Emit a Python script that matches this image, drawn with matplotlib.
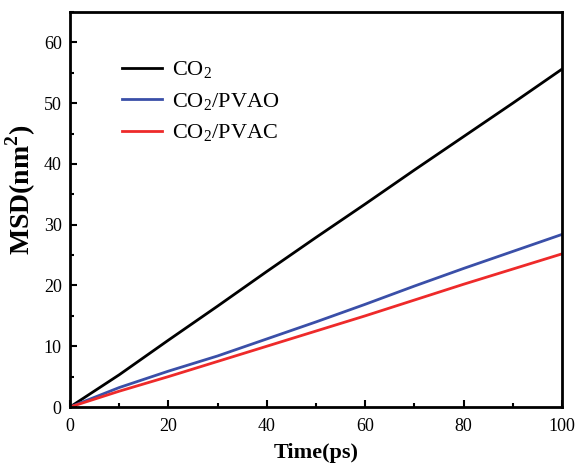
import matplotlib.pyplot as plt
from matplotlib.ticker import MultipleLocator

plt.rcParams['font.family'] = 'Liberation Serif'
plt.rcParams['mathtext.fontset'] = 'custom'
plt.rcParams['mathtext.rm'] = 'Liberation Serif'
plt.rcParams['mathtext.bf'] = 'Liberation Serif:bold'

time_ps = [0, 10, 20, 30, 40, 50, 60, 70, 80, 90, 100]
msd_co2 = [0, 5.3, 11.0, 16.6, 22.3, 27.9, 33.4, 39.0, 44.5, 50.0, 55.6]
msd_pvao = [0, 3.2, 5.9, 8.4, 11.2, 14.0, 16.9, 19.9, 22.8, 25.6, 28.4]
msd_pvac = [0, 2.6, 5.0, 7.5, 10.0, 12.5, 15.0, 17.6, 20.2, 22.7, 25.2]

fig = plt.figure(figsize=(5.75, 4.67), dpi=100)
ax = fig.add_axes([70 / 575, 1 - 407 / 467, 492 / 575, 395 / 467])

ax.plot(time_ps, msd_co2, color='black', lw=2, label='CO$_2$')
ax.plot(time_ps, msd_pvao, color='#3a4fa8', lw=2, label='CO$_2$/PVAO')
ax.plot(time_ps, msd_pvac, color='#ee2a2a', lw=2, label='CO$_2$/PVAC')

ax.set_xlim(0, 100)
ax.set_ylim(0, 65)
ax.xaxis.set_major_locator(MultipleLocator(20))
ax.xaxis.set_minor_locator(MultipleLocator(10))
ax.yaxis.set_major_locator(MultipleLocator(10))
ax.yaxis.set_minor_locator(MultipleLocator(5))
ax.tick_params(which='both', direction='in', width=1.5, labelsize=13)
ax.tick_params(which='major', length=5)
ax.tick_params(which='minor', length=3)
ax.tick_params(axis='x', which='major', pad=8)
ax.tick_params(axis='y', which='major', pad=6)
for s in ax.spines.values():
    s.set_linewidth(2)

ax.set_xlabel('Time(ps)', fontsize=16, fontweight='bold', labelpad=6)
ax.set_ylabel(r'MSD(nm$^\mathbf{2}$)', fontsize=20, fontweight='bold')
ax.yaxis.set_label_coords(-0.066, 0.55)

ax.legend(loc='upper left', bbox_to_anchor=(0.065, 0.93), frameon=False,
          fontsize=16, handlelength=1.8, handletextpad=0.45, labelspacing=0.45)

fig.savefig('out.png', dpi=100)
